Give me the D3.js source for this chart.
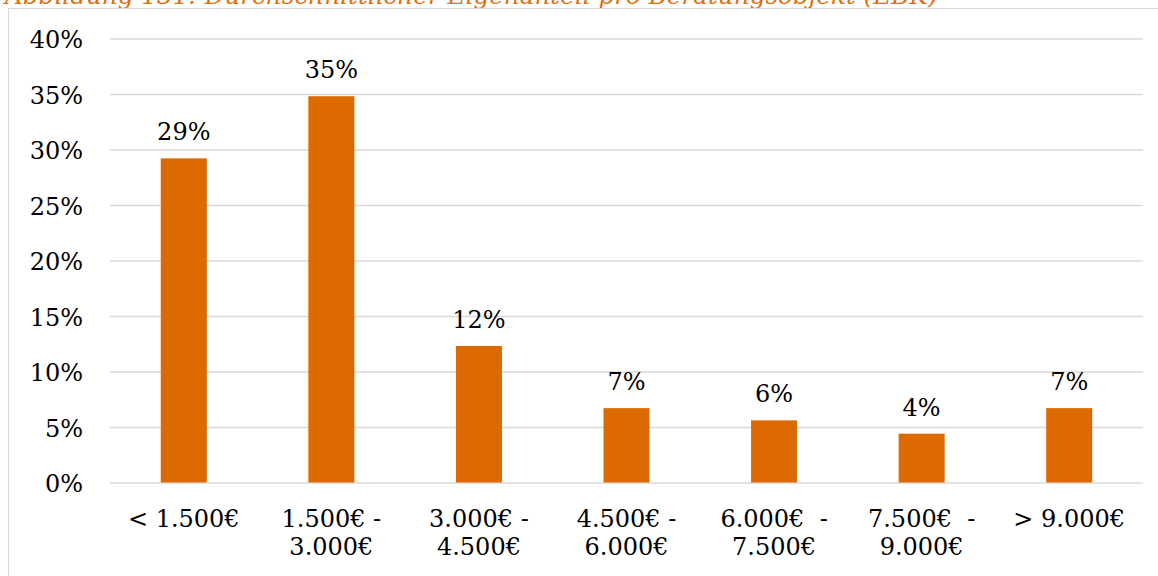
<!DOCTYPE html>
<html>
<head>
<meta charset="utf-8">
<script src="https://cdn.jsdelivr.net/npm/d3@7"></script>
<style>
  html, body { margin: 0; padding: 0; background: #fff; }
  svg { display: block; }
  text { font-family: "DejaVu Serif", Georgia, serif; }
</style>
</head>
<body>
<svg id="chart" width="1158" height="576"></svg>
<script>
// Durchschnittlicher Eigenanteil pro Beratungsobjekt (EBK)
const titleText = "Abbildung 131: Durchschnittlicher Eigenanteil pro Beratungsobjekt (EBK)";
const categories = [
  ["< 1.500€"],
  ["1.500€ -", "3.000€"],
  ["3.000€ -", "4.500€"],
  ["4.500€ -", "6.000€"],
  ["6.000€  -", "7.500€"],
  ["7.500€  -", "9.000€"],
  ["> 9.000€"]
];
const shares = [0.292, 0.348, 0.123, 0.067, 0.056, 0.044, 0.067];
const yTicks = [0, 0.05, 0.10, 0.15, 0.20, 0.25, 0.30, 0.35, 0.40];

const svg = d3.select("#chart");
const W = 1158, H = 576;
const plot = { left: 110, right: 1143, top: 38.5, bottom: 482.5 };

const barColor = "#DD6A00";
const gridColor = "#D9D9D9";
const textColor = "#000";
const fontSize = 24;
const fmtPct = d3.format(".0%");

// Title above the chart frame
const title = svg.append("text")
  .attr("x", 5)
  .attr("y", 3.5)
  .attr("fill", "#E0700E")
  .attr("font-style", "italic")
  .attr("font-size", 24)
  .text(titleText);
const tLen = title.node().getComputedTextLength();
title.attr("font-size", 24 * 933 / tLen);

// Chart frame (left and top edges)
svg.append("path")
  .attr("d", `M8.5,${H} V8.5 H${W}`)
  .attr("fill", "none")
  .attr("stroke", gridColor)
  .attr("stroke-width", 1.2);

const x = d3.scaleBand()
  .domain(d3.range(categories.length))
  .range([plot.left, plot.right])
  .paddingInner(0.688)
  .paddingOuter(0.344);

const y = d3.scaleLinear()
  .domain([0, 0.40])
  .range([plot.bottom, plot.top]);

// Horizontal gridlines with percentage labels
const yAxis = d3.axisLeft(y)
  .tickValues(yTicks)
  .tickSize(-(plot.right - plot.left))
  .tickPadding(27)
  .tickFormat(fmtPct);

const gy = svg.append("g")
  .attr("transform", `translate(${plot.left},0)`)
  .call(yAxis);
gy.select(".domain").remove();
gy.selectAll(".tick line")
  .attr("stroke", gridColor)
  .attr("stroke-width", 1.3);
gy.selectAll(".tick text")
  .attr("font-family", "DejaVu Serif, Georgia, serif")
  .attr("font-size", fontSize)
  .attr("fill", textColor)
  .attr("dy", null)
  .attr("y", 9);

// Bars
svg.append("g")
  .selectAll("rect")
  .data(shares)
  .join("rect")
  .attr("x", (d, i) => x(i))
  .attr("width", x.bandwidth())
  .attr("y", d => y(d))
  .attr("height", d => y(0) - y(d))
  .attr("fill", barColor);

// Value labels
svg.append("g")
  .selectAll("text")
  .data(shares)
  .join("text")
  .attr("x", (d, i) => x(i) + x.bandwidth() / 2)
  .attr("y", d => y(d) - 18)
  .attr("text-anchor", "middle")
  .attr("font-size", fontSize)
  .attr("fill", textColor)
  .text(d => fmtPct(d));

// Category labels
const xAxis = d3.axisBottom(x).tickSize(0).tickFormat("");
const gx = svg.append("g")
  .attr("transform", `translate(0,${plot.bottom})`)
  .call(xAxis);
gx.select(".domain").remove();
gx.selectAll(".tick").each(function (i) {
  const t = d3.select(this).append("text")
    .attr("text-anchor", "middle")
    .attr("font-size", fontSize)
    .attr("fill", textColor);
  categories[i].forEach((line, k) => {
    t.append("tspan")
      .attr("x", 0)
      .attr("y", 44 + k * 28)
      .style("white-space", "pre")
      .text(line);
  });
});
</script>
</body>
</html>
